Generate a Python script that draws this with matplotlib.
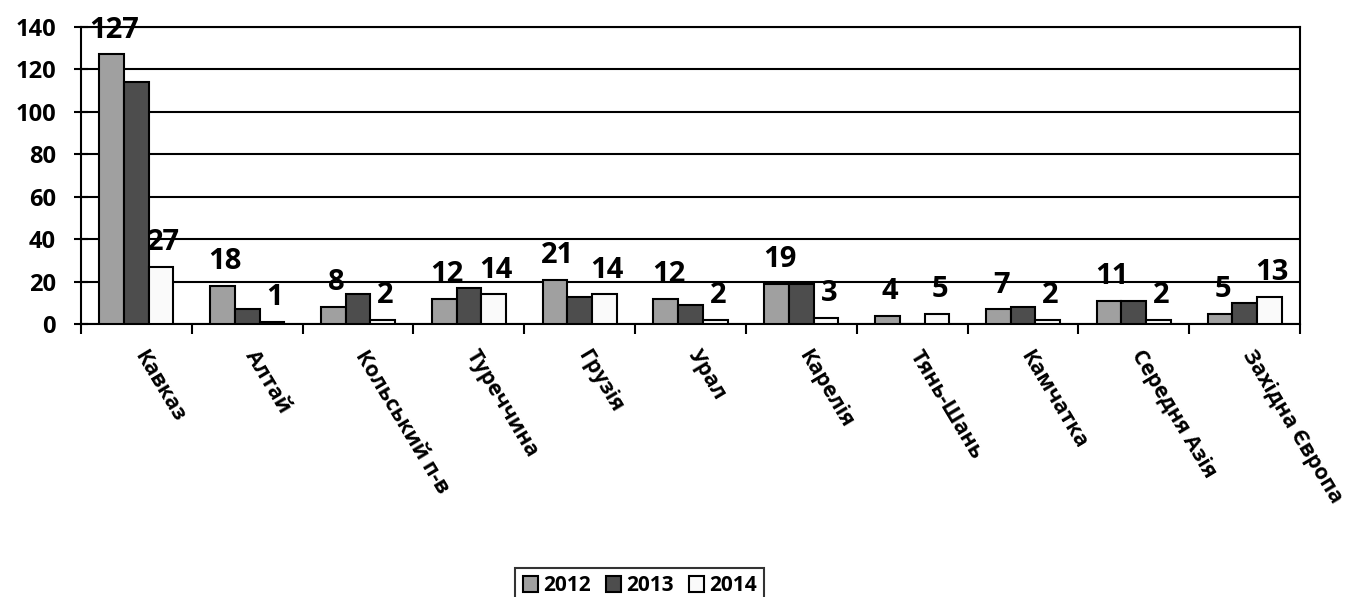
import matplotlib.pyplot as plt
import matplotlib.transforms as mtransforms
import numpy as np

plt.rcParams['font.family'] = ['Open Sans', 'DejaVu Sans']
plt.rcParams['font.weight'] = 'bold'

# Data
regions = ['Кавказ', 'Алтай', 'Кольський п-в', 'Туреччина', 'Грузія', 'Урал',
           'Карелія', 'Тянь-Шань', 'Камчатка', 'Середня Азія', 'Західна Європа']
y2012 = [127, 18, 8, 12, 21, 12, 19, 4, 7, 11, 5]
y2013 = [114, 7, 14, 17, 13, 9, 19, 0, 8, 11, 10]
y2014 = [27, 1, 2, 14, 14, 2, 3, 5, 2, 2, 13]
years = ['2012', '2013', '2014']
colors = ['#a0a0a0', '#4d4d4d', '#fafafa']

fig = plt.figure(figsize=(13.5, 5.97), dpi=100)
ax = fig.add_axes([0.06, 0.457, 0.903, 0.498])

x = np.arange(len(regions))
w = 0.223
series = [y2012, y2013, y2014]
bars = []
for i, (vals, c, lab) in enumerate(zip(series, colors, years)):
    b = ax.bar(x + (i - 1) * w, vals, w, color=c, edgecolor='black',
               linewidth=1.5, label=lab, zorder=3)
    bars.append(b)

# value labels only for 2012 and 2014
for b, vals in [(bars[0], y2012), (bars[2], y2014)]:
    for rect, v in zip(b, vals):
        ax.annotate(str(v), (rect.get_x() + rect.get_width() / 2, v),
                    xytext=(2, 7), textcoords='offset points',
                    ha='center', va='bottom', fontsize=21, fontweight='bold',
                    annotation_clip=False, zorder=5)

ax.set_ylim(0, 140)
ax.set_xlim(-0.5, len(regions) - 0.5)
ax.set_yticks(range(0, 141, 20))
ax.yaxis.grid(True, color='black', linewidth=1.5, zorder=0)
ax.tick_params(axis='y', direction='inout', length=10, width=1.5,
               labelsize=17, pad=13)

ax.set_xticks(x)
ax.set_xticklabels(regions, rotation=-59, ha='left', va='top',
                   rotation_mode='anchor', fontsize=15.5, fontweight='bold')
ax.tick_params(axis='x', which='major', length=0, pad=16)
ax.set_xticks(np.arange(-0.5, len(regions), 1.0), minor=True)
ax.tick_params(axis='x', which='minor', direction='out', length=7, width=1.5)
off = mtransforms.ScaledTranslation(8 / 72, 0, fig.dpi_scale_trans)
for t in ax.get_xticklabels():
    t.set_transform(t.get_transform() + off)

for s in ax.spines.values():
    s.set_linewidth(1.5)
    s.set_color('black')

leg = fig.legend(loc='upper center', bbox_to_anchor=(0.474, 0.066), ncol=3,
                 frameon=True, fancybox=False, handlelength=0.75,
                 handleheight=0.75, handletextpad=0.25, columnspacing=0.7,
                 borderpad=0.35, prop={'weight': 'bold', 'size': 15})
leg.get_frame().set_edgecolor('black')
leg.get_frame().set_linewidth(1.5)

fig.savefig('out.png', dpi=100)
